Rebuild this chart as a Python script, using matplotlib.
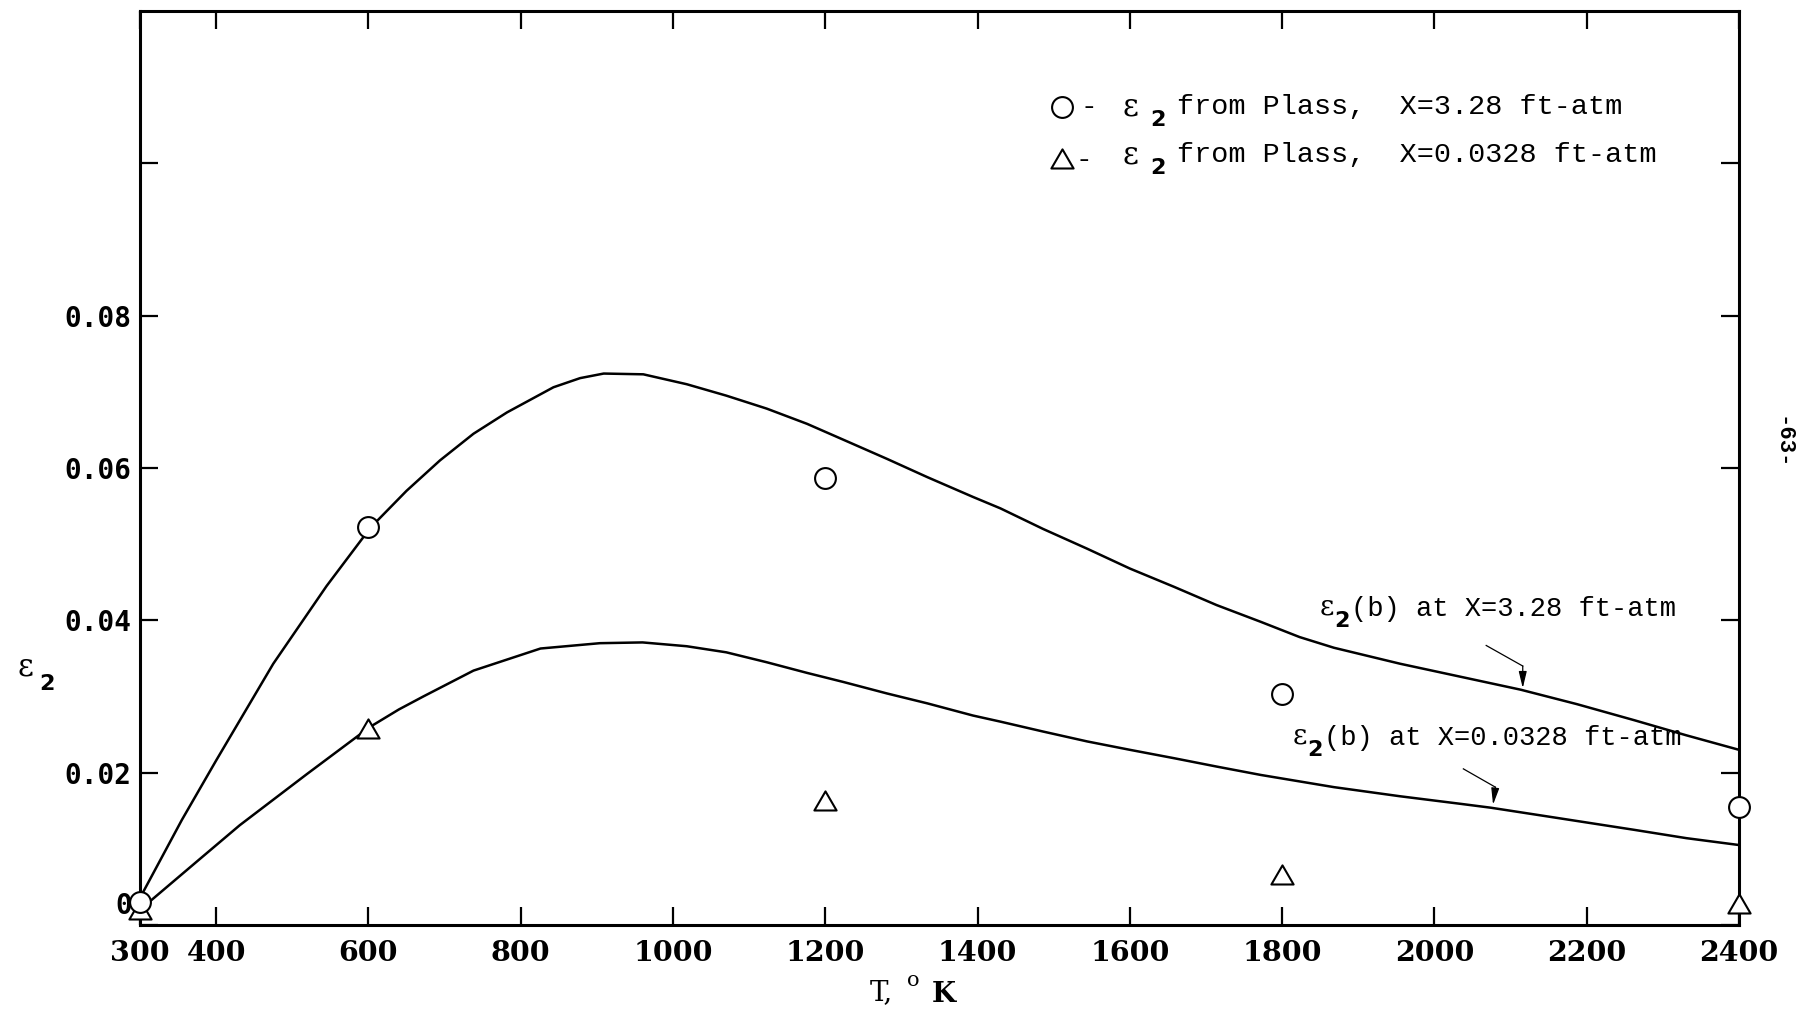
import matplotlib
matplotlib.use("Agg")
import matplotlib.pyplot as plt
from matplotlib.path import Path

# ---- data -------------------------------------------------------------
# emissivity points from Plass
plass_T = [300, 600, 1200, 1800, 2400]
plass_eps_328 = [0.0030, 0.0522, 0.0587, 0.0303, 0.0155]
plass_eps_0328 = [0.0018, 0.0256, 0.0162, 0.0064, 0.0026]

# band-model emissivity, X = 3.28 ft-atm
band_T_328 = [300, 304, 355, 400, 475, 545, 603, 650, 694, 738, 782, 843,
              878, 909, 961, 1018, 1070, 1123, 1176, 1224, 1281, 1334, 1394,
              1430, 1486, 1544, 1600, 1658, 1714, 1772, 1823, 1868, 1955,
              2034, 2113, 2187, 2262, 2331, 2400]
band_eps_328 = [0.0030, 0.0043, 0.0138, 0.0216, 0.0343, 0.0445, 0.0522,
                0.0570, 0.0610, 0.0645, 0.0673, 0.0706, 0.0718, 0.0724,
                0.0723, 0.0710, 0.0695, 0.0678, 0.0658, 0.0637, 0.0612,
                0.0588, 0.0562, 0.0547, 0.0520, 0.0494, 0.0468, 0.0444,
                0.0420, 0.0398, 0.0378, 0.0364, 0.0343, 0.0326, 0.0309,
                0.0290, 0.0269, 0.0249, 0.0230]

# band-model emissivity, X = 0.0328 ft-atm
band_T_0328 = [300, 313, 379, 431, 519, 602, 640, 672, 738, 826, 904, 960,
               1018, 1070, 1123, 1176, 1224, 1281, 1334, 1394, 1430, 1486,
               1544, 1600, 1658, 1714, 1772, 1868, 1955, 2035, 2074, 2152,
               2262, 2331, 2400]
band_eps_0328 = [0.0020, 0.0031, 0.0087, 0.0131, 0.0198, 0.0260, 0.0283,
                 0.0300, 0.0334, 0.0363, 0.0370, 0.0371, 0.0366, 0.0358,
                 0.0345, 0.0331, 0.0319, 0.0304, 0.0291, 0.0275, 0.0267,
                 0.0254, 0.0241, 0.0230, 0.0219, 0.0208, 0.0197, 0.0181,
                 0.0169, 0.0159, 0.0154, 0.0142, 0.0125, 0.0114, 0.0105]

x_ticks = [300, 400, 600, 800, 1000, 1200, 1400, 1600, 1800, 2000, 2200, 2400]
x_tick_labels = ["300", "400", "600", "800", "1000", "1200", "1400", "1600",
                 "1800", "2000", "2200", "2400"]
y_ticks = [0.0, 0.02, 0.04, 0.06, 0.08, 0.10]
y_tick_labels = ["", "0.02", "0.04", "0.06", "0.08", ""]

legend_328 = "from Plass,  X=3.28 ft-atm"
legend_0328 = "from Plass,  X=0.0328 ft-atm"
note_328 = "(b) at X=3.28 ft-atm"
note_0328 = "(b) at X=0.0328 ft-atm"

# ---- figure -----------------------------------------------------------
W, H, DPI = 1806, 1015, 100
fig = plt.figure(figsize=(W / DPI, H / DPI), dpi=DPI, facecolor="white")
ax = fig.add_axes([140 / W, 1 - 925 / H, (1739 - 140) / W, (925 - 11) / H])


def px(x, y):
    """pixel position -> figure fraction"""
    return x / W, 1 - y / H


TYPE = "Liberation Mono"
EPS_FONT = "DejaVu Serif"
SUB_FONT = "DejaVu Sans"

tri = Path([(-1.0, -0.72), (1.0, -0.72), (0.0, 1.0), (-1.0, -0.72)],
           [Path.MOVETO, Path.LINETO, Path.LINETO, Path.CLOSEPOLY])

ax.plot(band_T_328, band_eps_328, color="black", lw=1.8, zorder=2,
        clip_on=False, solid_joinstyle="round")
ax.plot(band_T_0328, band_eps_0328, color="black", lw=1.8, zorder=2,
        clip_on=False, solid_joinstyle="round")
ax.plot(plass_T, plass_eps_328, ls="none", marker="o", ms=15, mfc="white",
        mec="black", mew=1.5, zorder=4, clip_on=False)
ax.plot(plass_T, plass_eps_0328, ls="none", marker=tri, ms=16, mfc="white",
        mec="black", mew=1.5, zorder=3, clip_on=False)

ax.set_xlim(300, 2400)
ax.set_ylim(0, 0.12)
ax.set_xticks(x_ticks)
ax.set_xticklabels(x_tick_labels, fontfamily="DejaVu Serif",
                   fontweight="bold", fontsize=20.5)
ax.set_yticks(y_ticks)
ax.set_yticklabels(y_tick_labels, fontfamily="DejaVu Sans Mono",
                   fontweight="bold", fontsize=20)
ax.tick_params(axis="both", direction="in", length=13, width=1.6,
               top=True, right=True, color="black")
ax.tick_params(axis="x", pad=11)
ax.tick_params(axis="y", pad=6)
for s in ax.spines.values():
    s.set_linewidth(2.2)
    s.set_color("black")

# zero label sits a little above the axis line
ax.annotate("0", xy=(0, 0), xycoords=ax.get_yaxis_transform(),
            xytext=(-6, 14), textcoords="offset points", ha="right",
            va="center", fontfamily="DejaVu Sans Mono", fontweight="bold",
            fontsize=20)

# axis titles
fig.text(*px(25, 667), "\u03b5", fontfamily=EPS_FONT, fontsize=22,
         ha="center", va="center")
fig.text(*px(47, 684), "2", fontfamily=SUB_FONT, fontweight="bold",
         fontsize=16, ha="center", va="center")
fig.text(*px(881, 993), "T,", fontfamily="DejaVu Serif", fontsize=20,
         ha="center", va="center")
fig.text(*px(913, 981), "o", fontfamily="DejaVu Serif", fontsize=15,
         ha="center", va="center")
fig.text(*px(944, 995), "K", fontfamily="DejaVu Serif", fontweight="bold",
         fontsize=20, ha="center", va="center")

# key
for (mx, my), mk, ms, dash_x in [((1062, 107), "o", 15, 1089),
                                 ((1062, 160), tri, 16, 1084)]:
    fig.lines.append(plt.Line2D([mx / W], [1 - my / H], marker=mk, ms=ms,
                                mfc="white", mec="black", mew=1.5,
                                transform=fig.transFigure))
    fig.text(*px(dash_x, my), "-", fontfamily=TYPE, fontsize=20,
             ha="center", va="center")

for y, txt in [(107, legend_328), (155, legend_0328)]:
    fig.text(*px(1130, y), "\u03b5", fontfamily=EPS_FONT, fontsize=22,
             ha="center", va="center")
    fig.text(*px(1158, y + 13), "2", fontfamily=SUB_FONT, fontweight="bold",
             fontsize=16, ha="center", va="center")
    fig.text(*px(1177, y), txt, fontfamily=TYPE, fontsize=20.5, ha="left",
             va="center")

# curve labels
for (ex, ey), txt in [((1327, 607), note_328), ((1300, 736), note_0328)]:
    fig.text(*px(ex, ey), "\u03b5", fontfamily=EPS_FONT, fontsize=20,
             ha="center", va="center")
    fig.text(*px(ex + 15, ey + 14), "2", fontfamily=SUB_FONT,
             fontweight="bold", fontsize=16, ha="center", va="center")
    fig.text(*px(ex + 24, ey + 2), txt, fontfamily=TYPE, fontsize=19.5,
             ha="left", va="center")

# leader arrows
for start, bend, tip in [((2068, 0.0367), (2116, 0.0340), (2116, 0.0311)),
                         ((2038, 0.0205), (2080, 0.0181), (2077, 0.0158))]:
    ax.plot([start[0], bend[0]], [start[1], bend[1]], color="black", lw=0.9,
            clip_on=False)
    ax.annotate("", xy=tip, xytext=bend,
                arrowprops=dict(arrowstyle="-|>,head_length=0.5,head_width=0.12",
                                color="black", lw=0.9, shrinkA=0, shrinkB=0,
                                mutation_scale=20))

# page number
fig.text(*px(1782, 443), "-63-", fontfamily=TYPE, fontweight="bold",
         fontsize=16, rotation=-90, ha="center", va="center")

fig.savefig("out.png", dpi=DPI, facecolor="white")
